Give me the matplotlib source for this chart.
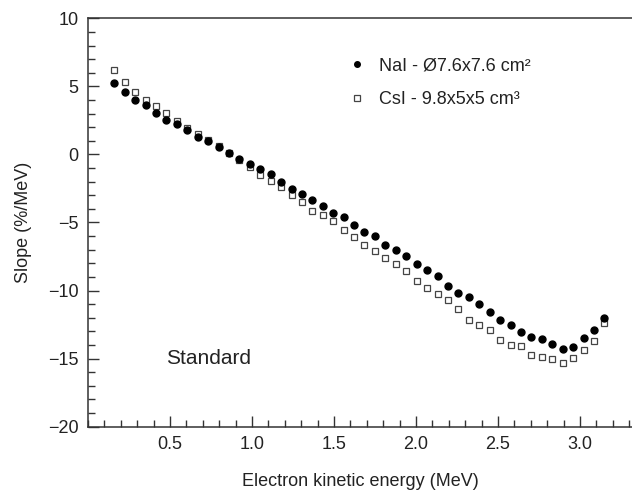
import matplotlib
matplotlib.use("Agg")
import matplotlib.pyplot as plt
from matplotlib.ticker import MultipleLocator

plt.rcParams['font.family'] = ['Liberation Sans', 'DejaVu Sans']

# Dataset
# -------
energy = [0.160, 0.224, 0.287, 0.351, 0.414, 0.478, 0.542, 0.605, 0.669, 0.732,
          0.796, 0.860, 0.923, 0.987, 1.050, 1.114, 1.178, 1.241, 1.305, 1.368,
          1.432, 1.496, 1.559, 1.623, 1.686, 1.750, 1.814, 1.877, 1.941, 2.004,
          2.068, 2.132, 2.195, 2.259, 2.322, 2.386, 2.450, 2.513, 2.577, 2.640,
          2.704, 2.768, 2.831, 2.895, 2.958, 3.022, 3.086, 3.149]

nai = [5.28, 4.56, 4.02, 3.62, 3.05, 2.54, 2.25, 1.76, 1.27, 1.01,
       0.58, 0.13, -0.34, -0.70, -1.04, -1.47, -2.00, -2.52, -2.91, -3.36,
       -3.82, -4.27, -4.59, -5.18, -5.69, -6.00, -6.62, -7.04, -7.46, -8.03,
       -8.47, -8.96, -9.67, -10.19, -10.49, -10.97, -11.54, -12.13, -12.55, -13.02,
       -13.38, -13.58, -13.90, -14.29, -14.12, -13.51, -12.87, -12.03]

csi = [6.18, 5.32, 4.61, 3.99, 3.53, 3.01, 2.49, 1.95, 1.52, 1.05,
       0.62, 0.09, -0.44, -0.92, -1.53, -1.95, -2.42, -2.97, -3.48, -4.16,
       -4.47, -4.88, -5.55, -6.06, -6.62, -7.12, -7.61, -8.08, -8.57, -9.28,
       -9.82, -10.24, -10.73, -11.39, -12.15, -12.50, -12.89, -13.63, -13.97, -14.10,
       -14.73, -14.91, -15.03, -15.35, -14.99, -14.34, -13.68, -12.40]

# Draw Plot
# ---------
fig = plt.figure(figsize=(6.32, 4.91), dpi=100)
ax = fig.add_axes([0.1392, 0.131, 0.8608, 0.8317])

ax.plot(energy, nai, 'o', ms=5.0, color='black', mec='black', lw=0, zorder=4,
        label="NaI - Ø7.6x7.6 cm²")
ax.plot(energy, csi, 's', ms=5.0, mfc='white', mec='#444444', mew=0.9, lw=0, zorder=3,
        label="CsI - 9.8x5x5 cm³")

ax.set_xlim(0, 3.317)
ax.set_ylim(-20, 10)

ax.xaxis.set_minor_locator(MultipleLocator(0.1))
ax.yaxis.set_major_locator(MultipleLocator(5))
ax.yaxis.set_minor_locator(MultipleLocator(1))
ax.set_xticks([0.5, 1.0, 1.5, 2.0, 2.5, 3.0])
ax.set_xticklabels(["0.5", "1.0", "1.5", "2.0", "2.5", "3.0"])

ax.tick_params(which='both', direction='in', colors='#333333', labelcolor='#222222',
               labelsize=13, top=False, right=False)
ax.tick_params(which='major', length=8, width=1, pad=7)
ax.tick_params(which='minor', length=5, width=1)

ax.spines['right'].set_visible(False)
for s in ['left', 'bottom', 'top']:
    ax.spines[s].set_color('#333333')
    ax.spines[s].set_linewidth(1.1)

ax.set_xlabel("Electron kinetic energy (MeV)", fontsize=13, color='#222222', labelpad=14)
ax.set_ylabel("Slope (%/MeV)", fontsize=13, color='#222222', labelpad=11)

ax.text(0.476, -14.96, "Standard", fontsize=15, color='#222222', va='center')

leg = ax.legend(loc='upper left', bbox_to_anchor=(0.455, 0.945), frameon=False,
                fontsize=13, handlelength=0.6, handletextpad=0.9, labelspacing=0.95,
                markerscale=0.8, numpoints=1, labelcolor='#222222')

fig.savefig("out.png", dpi=100)
